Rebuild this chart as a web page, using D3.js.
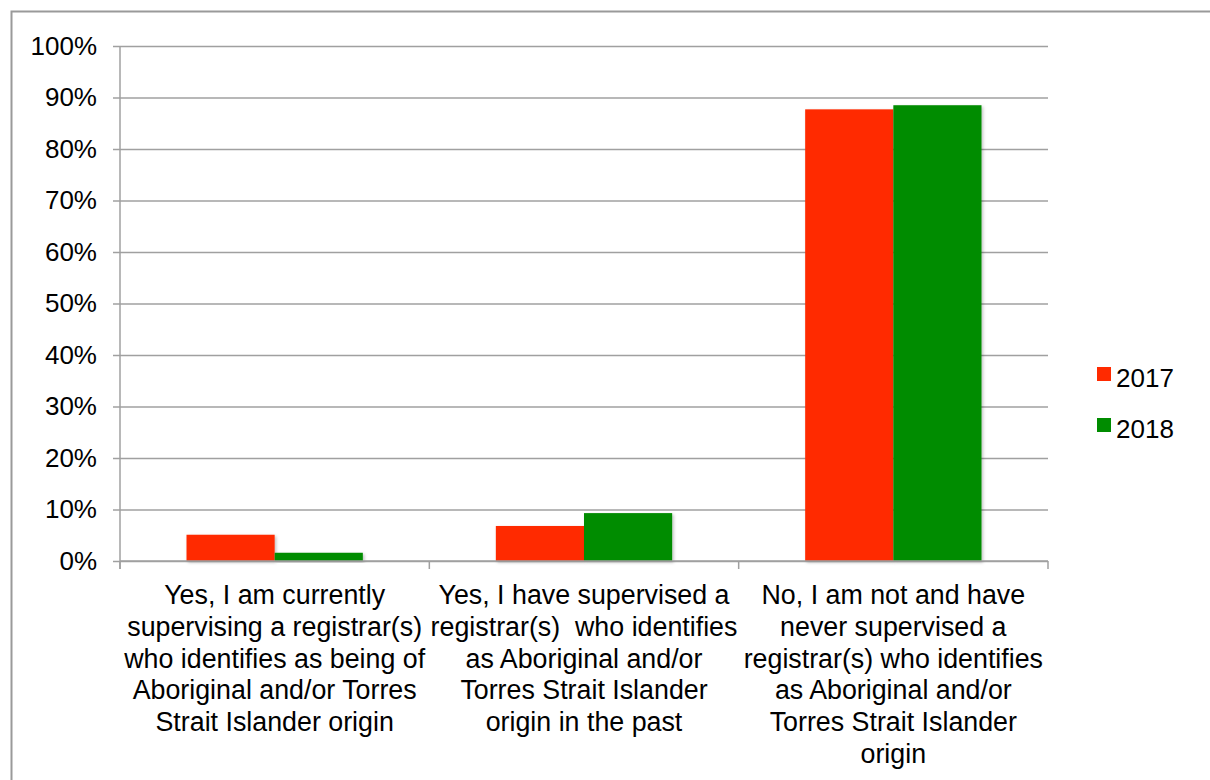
<!DOCTYPE html>
<html>
<head>
<meta charset="utf-8">
<script src="https://cdn.jsdelivr.net/npm/d3@7"></script>
<style>
  html, body { margin: 0; padding: 0; background: #fff; }
  svg { display: block; font-family: "Liberation Sans", Arial, Helvetica, sans-serif; }
  text { white-space: pre; }
</style>
</head>
<body>
<svg id="chart" width="1210" height="780"></svg>
<script>
// Survey responses by year (percent of supervisors)
const categories = [
  "Yes, I am currently\nsupervising a registrar(s)\nwho identifies as being of\nAboriginal and/or Torres\nStrait Islander origin",
  "Yes, I have supervised a\nregistrar(s)  who identifies\nas Aboriginal and/or\nTorres Strait Islander\norigin in the past",
  "No, I am not and have\nnever supervised a\nregistrar(s) who identifies\nas Aboriginal and/or\nTorres Strait Islander\norigin"
];
const seriesNames = ["2017", "2018"];
const values2017 = [5.1, 6.8, 87.7];
const values2018 = [1.6, 9.3, 88.5];
const yTicks = [0, 10, 20, 30, 40, 50, 60, 70, 80, 90, 100];
const colors = ["#ff2a00", "#008c00"];

const seriesValues = [values2017, values2018];

const svg = d3.select("#chart");

// Outer frame
svg.append("rect")
  .attr("x", 11.5).attr("y", 11.5)
  .attr("width", 1300).attr("height", 900)
  .attr("fill", "none").attr("stroke", "#9a9a9a").attr("stroke-width", 2);

const plot = { left: 120, right: 1048, top: 46, bottom: 561 };

const x = d3.scaleBand()
  .domain(d3.range(categories.length))
  .range([plot.left, plot.right])
  .paddingInner(0).paddingOuter(0);

const groupPad = 0.215;
const xInner = d3.scaleBand()
  .domain(d3.range(seriesNames.length))
  .range([x.bandwidth() * groupPad, x.bandwidth() * (1 - groupPad)]);

const y = d3.scaleLinear().domain([0, 100]).range([plot.bottom, plot.top]);

const defs = svg.append("defs");
const f = defs.append("filter").attr("id", "shadow")
  .attr("x", "-10%").attr("y", "-10%").attr("width", "130%").attr("height", "130%");
f.append("feDropShadow")
  .attr("dx", 1.5).attr("dy", 1.5).attr("stdDeviation", 1.5)
  .attr("flood-color", "#000").attr("flood-opacity", 0.25);

// Gridlines with left ticks
const yAxis = d3.axisLeft(y)
  .tickValues(yTicks)
  .tickSize(-(plot.right - plot.left))
  .tickSizeOuter(0)
  .tickPadding(16)
  .tickFormat(d => d + "%");

const gy = svg.append("g")
  .attr("transform", `translate(${plot.left},0)`)
  .call(yAxis);
gy.select(".domain").remove();
gy.selectAll(".tick line")
  .attr("x1", -7)
  .attr("stroke", "#a0a0a0").attr("stroke-width", 1.3);
gy.selectAll(".tick text")
  .attr("x", -23)
  .attr("font-size", 26)
  .attr("fill", "#000")
  .style("font-family", "'Liberation Sans', Arial, sans-serif");

// Bars
const groups = svg.append("g").selectAll("g")
  .data(categories.map((c, i) => i))
  .join("g")
  .attr("transform", i => `translate(${x(i)},0)`);

groups.selectAll("rect")
  .data(i => seriesValues.map((vals, s) => ({ s, v: vals[i] })))
  .join("rect")
  .attr("x", d => xInner(d.s))
  .attr("width", xInner.bandwidth())
  .attr("y", d => y(d.v))
  .attr("height", d => y(0) - y(d.v))
  .attr("fill", d => colors[d.s])
  .attr("filter", "url(#shadow)");

// Vertical axis line and category ticks
svg.append("line")
  .attr("x1", plot.left).attr("x2", plot.left)
  .attr("y1", plot.top).attr("y2", plot.bottom + 8)
  .attr("stroke", "#a0a0a0").attr("stroke-width", 1.5);
svg.append("line")
  .attr("x1", plot.left).attr("x2", plot.right)
  .attr("y1", plot.bottom).attr("y2", plot.bottom)
  .attr("stroke", "#a0a0a0").attr("stroke-width", 1.5);
svg.append("g").selectAll("line")
  .data(d3.range(categories.length + 1))
  .join("line")
  .attr("x1", i => plot.left + i * x.bandwidth())
  .attr("x2", i => plot.left + i * x.bandwidth())
  .attr("y1", plot.bottom).attr("y2", plot.bottom + 8)
  .attr("stroke", "#a0a0a0").attr("stroke-width", 1.5);

// Category labels
const lab = svg.append("g").selectAll("text")
  .data(categories)
  .join("text")
  .attr("x", (d, i) => x(i) + x.bandwidth() / 2)
  .attr("y", 604)
  .attr("text-anchor", "middle")
  .attr("font-size", 26.8)
  .attr("fill", "#000");
lab.selectAll("tspan")
  .data(d => d.split("\n"))
  .join("tspan")
  .attr("x", function () { return this.parentNode.getAttribute("x"); })
  .attr("dy", (d, j) => j === 0 ? 0 : 31.8)
  .text(d => d);

// Legend
const leg = svg.append("g").selectAll("g")
  .data(seriesNames)
  .join("g")
  .attr("transform", (d, i) => `translate(1097,${367 + i * 51})`);
leg.append("rect")
  .attr("width", 14).attr("height", 14)
  .attr("fill", (d, i) => colors[i]);
leg.append("text")
  .attr("x", 19).attr("y", 20)
  .attr("font-size", 26)
  .attr("fill", "#000")
  .text(d => d);
</script>
</body>
</html>
